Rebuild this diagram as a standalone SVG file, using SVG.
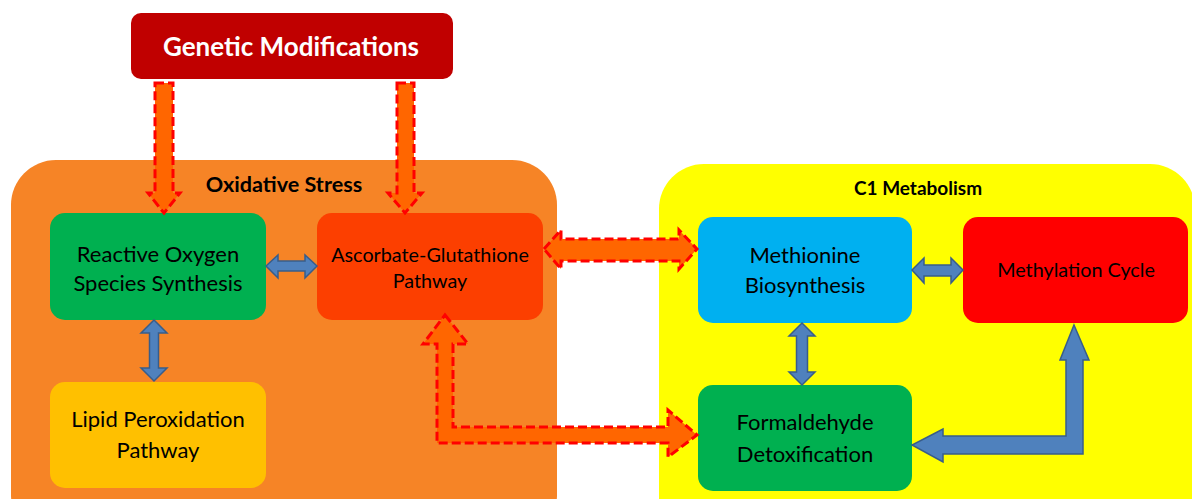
<svg xmlns="http://www.w3.org/2000/svg" width="1192" height="499" viewBox="0 0 1192 499">
<style>
text{font-family:Lato,"Open Sans","Liberation Sans",sans-serif;text-anchor:middle;fill:#000}
.lbl{font-size:22px}
.lbl2{font-size:19.8px}
.ttl{font-weight:bold}
.blue{fill:#4F81BD;stroke:#385D8A;stroke-width:1.5;stroke-linejoin:miter}
.dash{fill:#FF6600;stroke:#FF0000;stroke-width:3;stroke-dasharray:9 4;stroke-linejoin:miter}
</style>
<g id="oxidative-stress">
<rect x="11" y="160" width="546" height="380" rx="45" fill="#F68426"/>
<text class="ttl" x="284" y="192" style="font-size:21.6px">Oxidative Stress</text>
</g>
<g id="c1-metabolism">
<rect x="659" y="164" width="536" height="380" rx="45" fill="#FFFF00"/>
<text class="ttl" x="918" y="195" style="font-size:19px">C1 Metabolism</text>
</g>
<g id="genetic-modifications">
<rect x="131" y="13" width="322" height="66" rx="10" fill="#C00000"/>
<text x="291" y="56" style="font-size:26px;font-weight:bold;fill:#fff">Genetic Modifications</text>
</g>
<g id="ros">
<rect x="50" y="213" width="216" height="107" rx="15" fill="#00B050"/>
<text class="lbl" x="158" y="262">Reactive Oxygen</text>
<text class="lbl" x="158" y="291">Species Synthesis</text>
</g>
<g id="ascorbate">
<rect x="317" y="213" width="226" height="107" rx="15" fill="#FC3F00"/>
<text class="lbl2" x="430" y="262">Ascorbate-Glutathione</text>
<text class="lbl2" x="430" y="288">Pathway</text>
</g>
<g id="lipid">
<rect x="50" y="382" width="216" height="106" rx="15" fill="#FFC000"/>
<text class="lbl" x="158" y="427">Lipid Peroxidation</text>
<text class="lbl" x="158" y="458">Pathway</text>
</g>
<g id="methionine">
<rect x="698" y="217" width="214" height="106" rx="15" fill="#00B0F0"/>
<text class="lbl" x="805" y="263">Methionine</text>
<text class="lbl" x="805" y="293">Biosynthesis</text>
</g>
<g id="methylation">
<rect x="963" y="217" width="225" height="106" rx="15" fill="#FF0000"/>
<text class="lbl2" x="1076" y="277">Methylation Cycle</text>
</g>
<g id="formaldehyde">
<rect x="698" y="385" width="214" height="106" rx="15" fill="#00B050"/>
<text class="lbl" x="805" y="430">Formaldehyde</text>
<text class="lbl" x="805" y="462">Detoxification</text>
</g>
<g id="connectors">
<polygon class="blue" points="266,266 278,255 278,261 305,261 305,255 317,266 305,278 305,271 278,271 278,278"/>
<polygon class="blue" points="154,320 167,333 158.5,333 158.5,368 167,368 154,381 141,368 149.5,368 149.5,333 141,333"/>
<polygon class="blue" points="912,270 924,258 924,265 951,265 951,258 963,270 951,283 951,276 924,276 924,283"/>
<polygon class="blue" points="802,323 815,336 807.5,336 807.5,372 815,372 802,385 789,372 796.5,372 796.5,336 789,336"/>
<polygon class="blue" points="1074,325 1089,360 1083,360 1083,454 943,454 943,462 912,445 943,429 943,436 1066,436 1066,360 1060,360"/>
<polygon class="dash" points="155,83 173,83 173,193 180,193 164,213 148,193 155,193"/>
<polygon class="dash" points="397,83 414,83 414,193 422,193 405,213 388,193 397,193"/>
<polygon class="dash" points="544,249 561,230 561,239 679,239 679,230 697,249 679,269 679,261 561,261 561,269"/>
<polygon class="dash" points="445,315 468,344 453,344 453,427 668,427 668,410 697,435 668,457 668,443 437,443 437,344 423,344"/>
</g>
</svg>
